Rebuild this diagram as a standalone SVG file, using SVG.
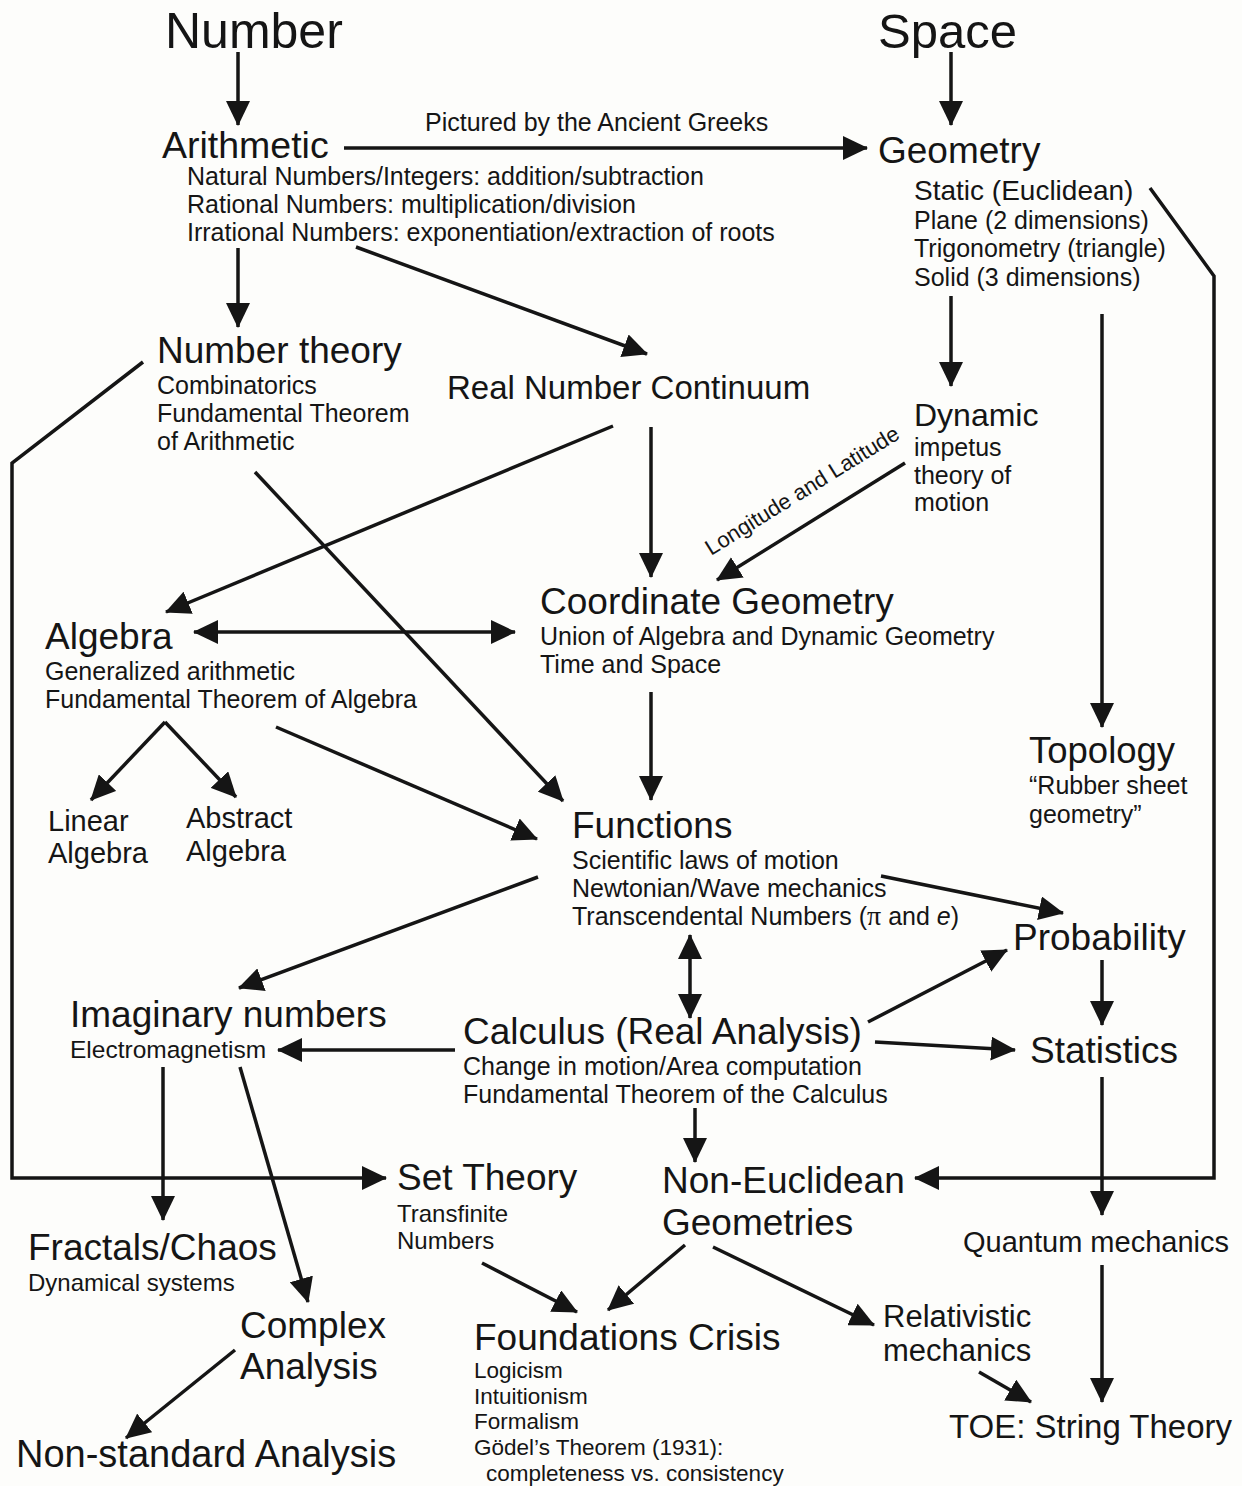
<svg xmlns="http://www.w3.org/2000/svg" width="1242" height="1486" viewBox="0 0 1242 1486">
<style>
text{font-family:"Liberation Sans",Arial,sans-serif;fill:#151515}
.t{font-size:50px}.h{font-size:37px}.s{font-size:25px}.m{font-size:29px}
.c line,.c polyline{stroke:#151515;stroke-width:3.5;fill:none}
.e{marker-end:url(#ah)}.d{marker-start:url(#ah);marker-end:url(#ah)}
</style>
<defs>
<marker id="ah" viewBox="0 0 25 24" refX="24" refY="12" markerWidth="25" markerHeight="24" markerUnits="userSpaceOnUse" orient="auto-start-reverse"><path d="M0,0 L25,12 L0,24 z" fill="#151515"/></marker>
</defs>
<rect width="1242" height="1486" fill="#fdfdfb"/>
<g class="c" id="connectors">
<line class="e" x1="238" y1="52" x2="238" y2="125"/>
<line class="e" x1="951" y1="52" x2="951" y2="125"/>
<line class="e" x1="344" y1="148" x2="867" y2="148"/>
<text x="425" y="131" class="s" style="stroke:none">Pictured by the Ancient Greeks</text>
<line class="e" x1="238" y1="248" x2="238" y2="327"/>
<line class="e" x1="356" y1="247" x2="647" y2="354"/>
<line class="e" x1="951" y1="296" x2="951" y2="386"/>
<line class="e" x1="1102" y1="314" x2="1102" y2="727"/>
<polyline class="e" points="1150,188 1214,276 1214,1178 915,1178"/>
<polyline class="e" points="143,362 12,463 12,1178 386,1178"/>
<line class="e" x1="613" y1="426" x2="166" y2="612"/>
<line class="e" x1="651" y1="427" x2="651" y2="577"/>
<line class="e" x1="905" y1="463" x2="717" y2="580"/>
<text x="0" y="0" transform="translate(711,556) rotate(-31.9)" style="font-size:22px;stroke:none">Longitude and Latitude</text>
<line class="e" x1="255" y1="472" x2="563" y2="801"/>
<line class="d" x1="194" y1="632" x2="515" y2="632"/>
<line class="e" x1="165" y1="722" x2="91" y2="800"/>
<line class="e" x1="165" y1="722" x2="236" y2="797"/>
<line class="e" x1="276" y1="727" x2="537" y2="839"/>
<line class="e" x1="651" y1="692" x2="651" y2="800"/>
<line class="e" x1="538" y1="877" x2="239" y2="988"/>
<line class="e" x1="881" y1="876" x2="1063" y2="913"/>
<line class="d" x1="690" y1="935" x2="690" y2="1018"/>
<line class="e" x1="868" y1="1022" x2="1007" y2="950"/>
<line class="e" x1="875" y1="1042" x2="1015" y2="1050"/>
<line class="e" x1="1102" y1="960" x2="1102" y2="1025"/>
<line class="e" x1="455" y1="1050" x2="278" y2="1050"/>
<line class="e" x1="163" y1="1067" x2="163" y2="1220"/>
<line class="e" x1="240" y1="1067" x2="308" y2="1302"/>
<line class="e" x1="695" y1="1108" x2="695" y2="1162"/>
<line class="e" x1="1102" y1="1077" x2="1102" y2="1215"/>
<line class="e" x1="482" y1="1263" x2="577" y2="1312"/>
<line class="e" x1="685" y1="1245" x2="608" y2="1310"/>
<line class="e" x1="713" y1="1247" x2="874" y2="1325"/>
<line class="e" x1="979" y1="1372" x2="1031" y2="1402"/>
<line class="e" x1="1102" y1="1265" x2="1102" y2="1402"/>
<line class="e" x1="235" y1="1350" x2="126" y2="1438"/>
</g>
<g id="number"><text x="165" y="48" class="t">Number</text></g>
<g id="space"><text x="878" y="48" class="t" style="font-size:49px">Space</text></g>
<g id="arithmetic"><text x="162" y="158" class="h" style="font-size:37.5px">Arithmetic</text>
<text x="187" y="185" class="s">Natural Numbers/Integers: addition/subtraction</text>
<text x="187" y="213" class="s">Rational Numbers: multiplication/division</text>
<text x="187" y="241" class="s">Irrational Numbers: exponentiation/extraction of roots</text></g>
<g id="geometry"><text x="878" y="163" class="h">Geometry</text>
<text x="914" y="200" style="font-size:28px">Static (Euclidean)</text>
<text x="914" y="229" class="s">Plane (2 dimensions)</text>
<text x="914" y="257" class="s">Trigonometry (triangle)</text>
<text x="914" y="286" class="s">Solid (3 dimensions)</text></g>
<g id="number-theory"><text x="157" y="363" class="h">Number theory</text>
<text x="157" y="394" class="s">Combinatorics</text>
<text x="157" y="422" class="s">Fundamental Theorem</text>
<text x="157" y="450" class="s">of Arithmetic</text></g>
<g id="real-number-continuum"><text x="447" y="399" style="font-size:33px">Real Number Continuum</text></g>
<g id="dynamic"><text x="914" y="426" style="font-size:32px">Dynamic</text>
<text x="914" y="456" class="s">impetus</text>
<text x="914" y="484" class="s">theory of</text>
<text x="914" y="511" class="s">motion</text></g>
<g id="coordinate-geometry"><text x="540" y="614" class="h">Coordinate Geometry</text>
<text x="540" y="645" class="s">Union of Algebra and Dynamic Geometry</text>
<text x="540" y="673" class="s">Time and Space</text></g>
<g id="algebra"><text x="45" y="649" class="h">Algebra</text>
<text x="45" y="680" class="s">Generalized arithmetic</text>
<text x="45" y="708" class="s">Fundamental Theorem of Algebra</text></g>
<g id="linear-algebra"><text x="48" y="831" class="m">Linear</text><text x="48" y="863" class="m">Algebra</text></g>
<g id="abstract-algebra"><text x="186" y="828" class="m">Abstract</text><text x="186" y="861" class="m">Algebra</text></g>
<g id="topology"><text x="1029" y="763" class="h" style="font-size:36.5px">Topology</text>
<text x="1029" y="794" class="s">“Rubber sheet</text>
<text x="1029" y="823" class="s">geometry”</text></g>
<g id="functions"><text x="572" y="838" class="h">Functions</text>
<text x="572" y="869" class="s">Scientific laws of motion</text>
<text x="572" y="897" class="s">Newtonian/Wave mechanics</text>
<text x="572" y="925" class="s">Transcendental Numbers (<tspan style="font-family:'Liberation Serif',serif;font-size:28px">π</tspan> and <tspan font-style="italic">e</tspan>)</text></g>
<g id="probability"><text x="1013" y="950" class="h">Probability</text></g>
<g id="imaginary-numbers"><text x="70" y="1027" class="h">Imaginary numbers</text>
<text x="70" y="1058" style="font-size:24.5px">Electromagnetism</text></g>
<g id="calculus"><text x="463" y="1044" class="h">Calculus (Real Analysis)</text>
<text x="463" y="1075" class="s">Change in motion/Area computation</text>
<text x="463" y="1103" class="s">Fundamental Theorem of the Calculus</text></g>
<g id="statistics"><text x="1030" y="1063" class="h">Statistics</text></g>
<g id="set-theory"><text x="397" y="1190" class="h">Set Theory</text>
<text x="397" y="1222" style="font-size:24px">Transfinite</text>
<text x="397" y="1249" style="font-size:24px">Numbers</text></g>
<g id="non-euclidean"><text x="662" y="1193" class="h">Non-Euclidean</text>
<text x="662" y="1235" class="h">Geometries</text></g>
<g id="quantum"><text x="963" y="1252" class="m">Quantum mechanics</text></g>
<g id="fractals"><text x="28" y="1260" class="h">Fractals/Chaos</text>
<text x="28" y="1291" style="font-size:24px">Dynamical systems</text></g>
<g id="complex-analysis"><text x="240" y="1338" class="h">Complex</text>
<text x="240" y="1379" class="h">Analysis</text></g>
<g id="foundations-crisis"><text x="474" y="1350" class="h">Foundations Crisis</text>
<text x="474" y="1378" style="font-size:22.5px">Logicism</text>
<text x="474" y="1404" style="font-size:22.5px">Intuitionism</text>
<text x="474" y="1429" style="font-size:22.5px">Formalism</text>
<text x="474" y="1455" style="font-size:22.5px">Gödel’s Theorem (1931):</text>
<text x="486" y="1481" style="font-size:22.5px">completeness vs. consistency</text></g>
<g id="relativistic"><text x="883" y="1327" style="font-size:31px">Relativistic</text>
<text x="883" y="1361" style="font-size:31px">mechanics</text></g>
<g id="toe"><text x="949" y="1438" style="font-size:33px">TOE: String Theory</text></g>
<g id="non-standard"><text x="16" y="1467" style="font-size:38px">Non-standard Analysis</text></g>
</svg>
